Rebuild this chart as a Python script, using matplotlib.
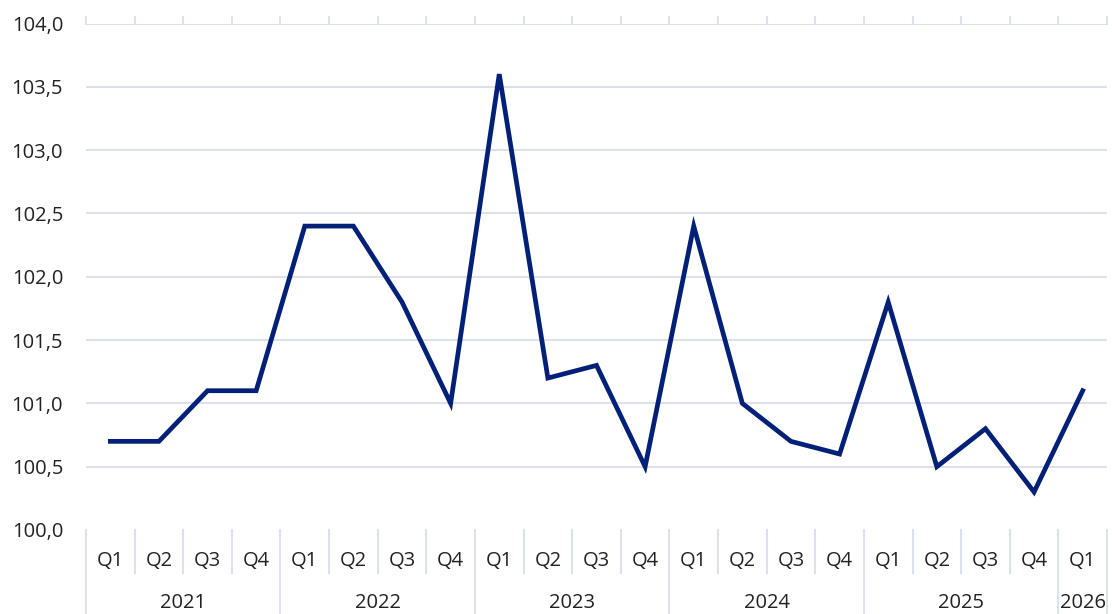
import numpy as np
import matplotlib
matplotlib.use('Agg')
import matplotlib.pyplot as plt
from matplotlib.ticker import FuncFormatter
import matplotlib.transforms as mtransforms

years = ["2021", "2022", "2023", "2024", "2025", "2026"]
quarters_per_year = [4, 4, 4, 4, 4, 1]
quarter_labels = ["Q1", "Q2", "Q3", "Q4"] * 5 + ["Q1"]
values = [100.7, 100.7, 101.1, 101.1,
          102.4, 102.4, 101.8, 101.0,
          103.6, 101.2, 101.3, 100.5,
          102.4, 101.0, 100.7, 100.6,
          101.8, 100.5, 100.8, 100.3,
          101.1]

LINE_COL = "#022077"
GRID_COL = "#dde1eb"
TEXT_COL = "#222222"
FS = 14.5

plt.rcParams['font.family'] = ['Open Sans', 'DejaVu Sans']

fig = plt.figure(figsize=(11.12, 6.14), dpi=100)
ax_h = 530 - 23.5
ax = fig.add_axes([86/1112, 1 - 530/614, (1107 - 86)/1112, ax_h/614])

x = np.arange(len(values))
ax.plot(x, values, color=LINE_COL, lw=3.4, solid_joinstyle="miter", zorder=3)

ax.set_xlim(-0.5, len(values) - 0.5)
ax.set_ylim(100, 104)
ax.set_yticks(np.arange(100, 104.01, 0.5))
ax.yaxis.set_major_formatter(FuncFormatter(lambda v, p: f"{v:.1f}".replace(".", ",")))
ax.tick_params(axis="y", length=0, pad=16.5, labelsize=FS, labelcolor=TEXT_COL)
ax.set_xticks([])
for s in ax.spines.values():
    s.set_visible(False)

# horizontal gridlines (none at the baseline)
for yv in np.arange(100.5, 104.01, 0.5):
    ax.axhline(yv, color=GRID_COL, lw=1.5, zorder=1)

trans = mtransforms.blended_transform_factory(ax.transData, ax.transAxes)
px = 1 / ax_h  # one pixel in axes-y units

# quarter labels and separators
for i, q in enumerate(quarter_labels):
    ax.text(i, -31 * px, q, transform=trans, ha="center", va="center",
            fontsize=FS, color=TEXT_COL)

boundaries = np.arange(len(values) + 1) - 0.5
year_starts = np.cumsum([0] + quarters_per_year) - 0.5
for b in boundaries:
    is_year = np.any(np.isclose(year_starts, b))
    y_end = -90 * px if is_year else -43 * px
    ax.plot([b, b], [0, y_end], transform=trans, color=GRID_COL, lw=1.5, clip_on=False)
    ax.plot([b, b], [1, 1 + 7 * px], transform=trans, color=GRID_COL, lw=1.5, clip_on=False)

# year labels
for j, yr in enumerate(years):
    mid = (year_starts[j] + year_starts[j + 1]) / 2
    ax.text(mid, -73 * px, yr, transform=trans, ha="center", va="center",
            fontsize=FS, color=TEXT_COL)

fig.savefig("out.png", dpi=100)
